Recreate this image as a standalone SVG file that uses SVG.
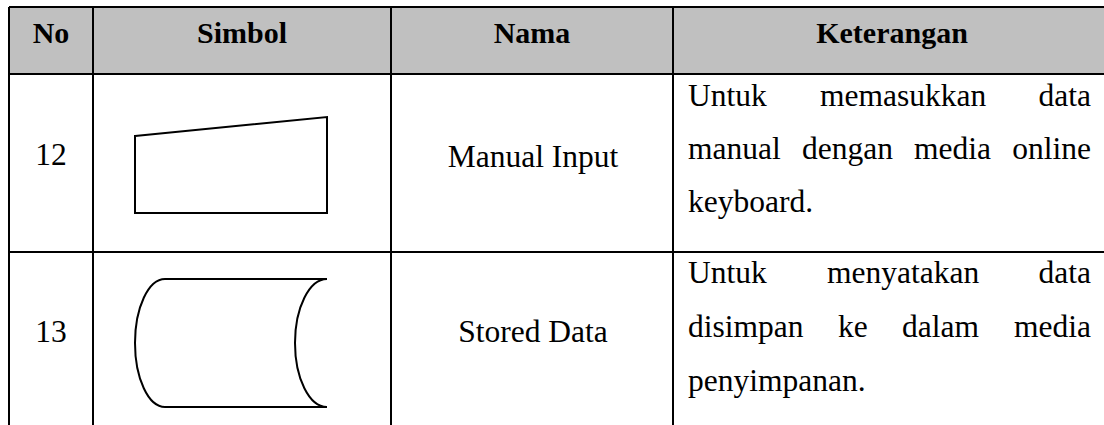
<svg xmlns="http://www.w3.org/2000/svg" width="1104" height="425" viewBox="0 0 1104 425">
<style>
.grid{stroke:#000;stroke-width:2;fill:none}
.shape{stroke:#000;stroke-width:2;fill:none}
.h{font-family:"Liberation Serif","Times New Roman",serif;font-weight:bold;font-size:30px;fill:#000;text-anchor:middle}
.t{font-family:"Liberation Serif","Times New Roman",serif;font-size:31.5px;fill:#000}
.c{text-anchor:middle}
.e{text-anchor:end}
</style>
<rect width="1104" height="425" fill="#fff"/>
<g id="table">
<rect x="9" y="7" width="1095" height="67" fill="#C0C0C0"/>
<path class="grid" d="M9,7H1104M9,74H1104M9,252H1104M9,7V425M93,7V425M391,7V425M673,7V425"/>
</g>
<g id="header">
<text class="h" x="51" y="43">No</text>
<text class="h" x="242" y="43">Simbol</text>
<text class="h" x="532" y="43">Nama</text>
<text class="h" x="892" y="43">Keterangan</text>
</g>
<g id="row12">
<text class="t c" x="51" y="165">12</text>
<polygon class="shape" points="135,136 327,117 327,213 135,213"/>
<text class="t c" x="533" y="167">Manual Input</text>
<text class="t" x="688" y="106">Untuk</text>
<text class="t" x="820" y="106">memasukkan</text>
<text class="t e" x="1091" y="106">data</text>
<text class="t" x="688" y="159">manual</text>
<text class="t" x="802" y="159">dengan</text>
<text class="t" x="914" y="159">media</text>
<text class="t e" x="1091" y="159">online</text>
<text class="t" x="688" y="212">keyboard.</text>
</g>
<g id="row13">
<text class="t c" x="51" y="342">13</text>
<path class="shape" d="M327,279H165A30,64 0 0 0 165,407H327M327,279A32,64 0 0 0 327,407"/>
<text class="t c" x="533" y="342">Stored Data</text>
<text class="t" x="688" y="283">Untuk</text>
<text class="t" x="827" y="283">menyatakan</text>
<text class="t e" x="1091" y="283">data</text>
<text class="t" x="688" y="337">disimpan</text>
<text class="t" x="838" y="337">ke</text>
<text class="t" x="902" y="337">dalam</text>
<text class="t e" x="1091" y="337">media</text>
<text class="t" x="688" y="391">penyimpanan.</text>
</g>
</svg>
